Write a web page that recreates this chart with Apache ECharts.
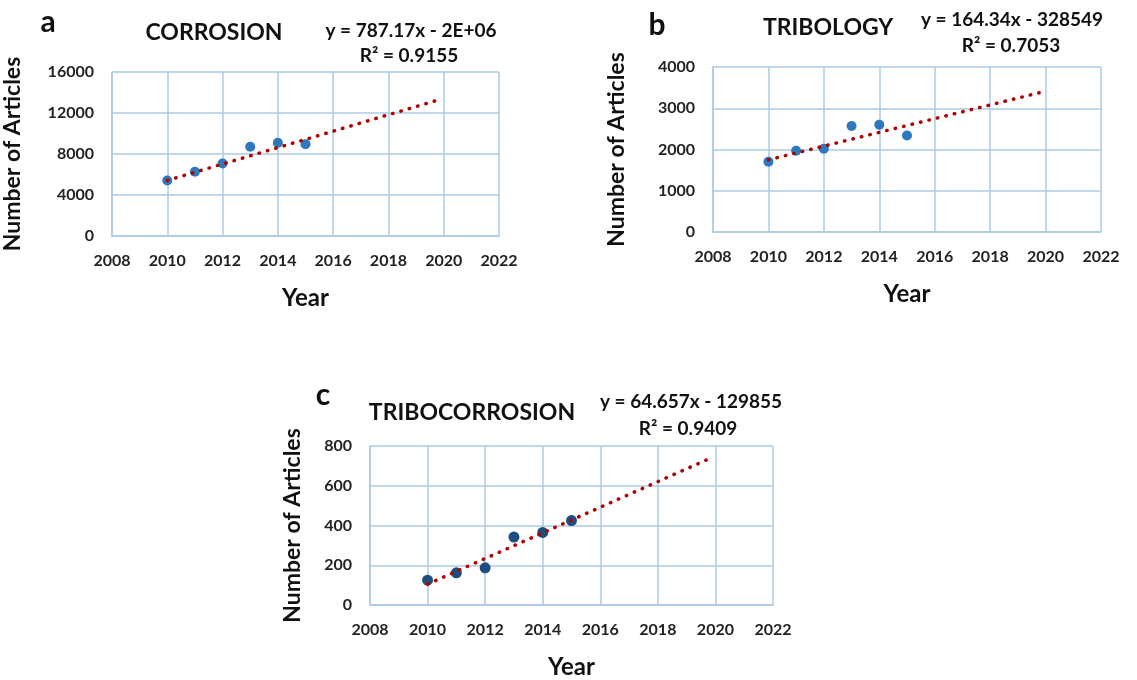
<!DOCTYPE html>
<html>
<head>
<meta charset="utf-8">
<script src="https://cdn.jsdelivr.net/npm/echarts@6/dist/echarts.min.js"></script>
<style>
  html, body { margin: 0; padding: 0; background: #fff; }
  #chart { width: 1137px; height: 680px; }
</style>
</head>
<body>
<div id="chart"></div>
<script>
// values
const years = [2010, 2011, 2012, 2013, 2014, 2015];
const corrosion = [5420, 6270, 7080, 8700, 9090, 8960];
const tribology = [1705, 1970, 2020, 2570, 2600, 2340];
const tribocorrosion = [125, 162, 187, 342, 365, 425];

// trend line end points (from the picture)
const corrosionTrend = [[2010, 5420], [2019.8, 13270]];
const tribologyTrend = [[2010, 1750], [2019.8, 3380]];
const tribocorrosionTrend = [[2010, 105], [2019.8, 737]];

const xTicks = { min: 2008, max: 2022, interval: 2 };
const yTicks = [
  { min: 0, max: 16000, interval: 4000 },
  { min: 0, max: 4000, interval: 1000 },
  { min: 0, max: 800, interval: 200 }
];

const FONT = 'Lato';
const gridColor = '#adcae6';
const trendColor = '#b00000';

const grids = [
  { left: 111, top: 72, width: 388, height: 164 },
  { left: 713, top: 67, width: 388, height: 165 },
  { left: 370, top: 446, width: 403, height: 164 }
];
const yNameGap = [88, 85, 66];

function pts(vals) {
  return years.map((y, i) => [y, vals[i]]);
}

const chart = echarts.init(document.getElementById('chart'));

const xAxis = grids.map((g, i) => ({
  type: 'value',
  gridIndex: i,
  min: xTicks.min, max: xTicks.max, interval: xTicks.interval,
  name: 'Year',
  nameLocation: 'middle',
  nameGap: 50,
  nameTextStyle: { fontFamily: FONT, fontWeight: 'bold', fontSize: 24, color: '#111' },
  axisLine: { lineStyle: { color: gridColor, width: 1.5 } },
  axisTick: { show: false },
  splitLine: { lineStyle: { color: gridColor, width: 1.5 } },
  axisLabel: {
    fontFamily: FONT, fontWeight: 'bold', fontSize: 16, color: '#222', margin: 17,
    formatter: v => String(v)
  }
}));

const yAxis = grids.map((g, i) => ({
  type: 'value',
  gridIndex: i,
  min: yTicks[i].min, max: yTicks[i].max, interval: yTicks[i].interval,
  name: 'Number of Articles',
  nameLocation: 'middle',
  nameGap: yNameGap[i],
  nameTextStyle: { fontFamily: FONT, fontWeight: 'bold', fontSize: 23, color: '#111' },
  axisLine: { show: true, lineStyle: { color: gridColor, width: 1.5 } },
  axisTick: { show: false },
  splitLine: { lineStyle: { color: gridColor, width: 1.5 } },
  axisLabel: {
    fontFamily: FONT, fontWeight: 'bold', fontSize: 16, color: '#222', margin: 18,
    formatter: v => String(v)
  }
}));

const pointColors = ['#2e78bd', '#2e78bd', '#1d4f7e'];
const data = [corrosion, tribology, tribocorrosion];
const trends = [corrosionTrend, tribologyTrend, tribocorrosionTrend];

const series = [];
data.forEach((vals, i) => {
  series.push({
    type: 'scatter',
    xAxisIndex: i, yAxisIndex: i,
    data: pts(vals),
    symbolSize: i === 2 ? 11 : 10,
    itemStyle: { color: pointColors[i], opacity: 1 },
    z: 2
  });
  series.push({
    type: 'line',
    xAxisIndex: i, yAxisIndex: i,
    data: trends[i],
    showSymbol: false,
    lineStyle: { color: trendColor, width: 3.5, type: [0.5, 8.2], cap: 'round' },
    z: 3
  });
});

function txt(x, y, text, size) {
  return {
    type: 'text', x: x, y: y,
    style: {
      text: text, fill: '#111',
      font: 'bold ' + size + 'px ' + FONT,
      align: 'center', verticalAlign: 'middle'
    }
  };
}

const graphic = [
  txt(48, 22, 'a', 30),
  txt(214, 33, 'CORROSION', 23),
  txt(411, 31, 'y = 787.17x - 2E+06', 19),
  txt(409, 56, 'R² = 0.9155', 19),

  txt(657, 25, 'b', 30),
  txt(828, 28, 'TRIBOLOGY', 23),
  txt(1012, 20, 'y = 164.34x - 328549', 19),
  txt(1011, 46, 'R² = 0.7053', 19),

  txt(323, 395, 'c', 30),
  txt(472, 413, 'TRIBOCORROSION', 23),
  txt(691, 402, 'y = 64.657x - 129855', 19),
  txt(688, 429, 'R² = 0.9409', 19)
];

chart.setOption({
  animation: false,
  grid: grids,
  xAxis: xAxis,
  yAxis: yAxis,
  series: series,
  graphic: graphic
});
</script>
</body>
</html>
